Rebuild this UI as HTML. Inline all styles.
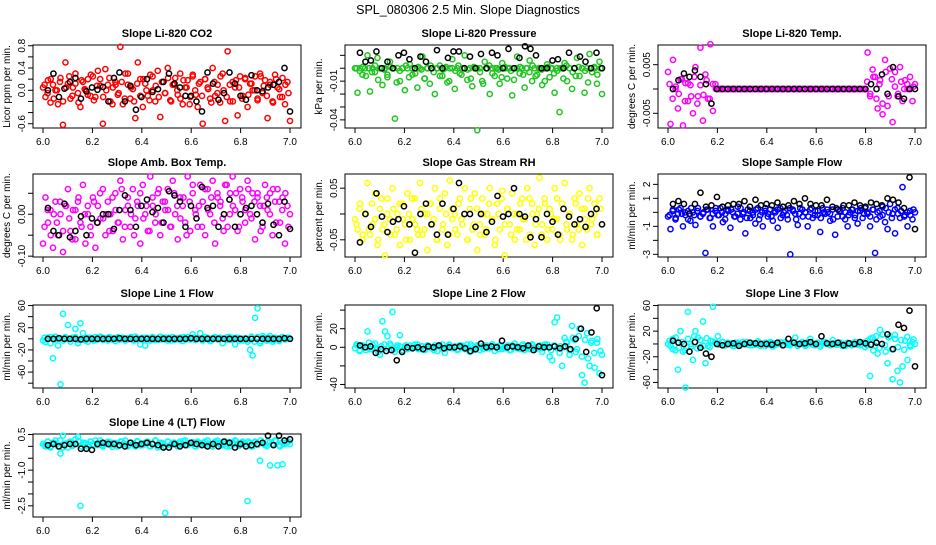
<!DOCTYPE html>
<html><head><meta charset="utf-8"><style>
html,body{margin:0;padding:0;background:#fff;}
svg text{font-family:"Liberation Sans",sans-serif;fill:#000;}
</style></head><body>
<svg id="chart" width="936" height="540" viewBox="0 0 936 540" xmlns="http://www.w3.org/2000/svg">
<rect width="936" height="540" fill="#fff"/>
<text x="468" y="14" text-anchor="middle" font-size="12.5">SPL_080306  2.5 Min. Slope Diagnostics</text>
</svg>
<script>
const xTicks=[6.0,6.2,6.4,6.6,6.8,7.0];
const xTickLabels=["6.0","6.2","6.4","6.6","6.8","7.0"];
const panelTitles=["Slope Li-820 CO2","Slope Li-820 Pressure","Slope Li-820 Temp.","Slope Amb. Box Temp.","Slope Gas Stream RH","Slope Sample Flow","Slope Line 1 Flow","Slope Line 2 Flow","Slope Line 3 Flow","Slope Line 4 (LT) Flow"];
const yTitles=["Licor ppm per min.","kPa per min.","degrees C per min.","degrees C per min.","percent per min.","ml/min per min.","ml/min per min.","ml/min per min.","ml/min per min.","ml/min per min."];

const co2C=[0.05,-0.12,0.18,-0.22,0.1,0.0,-0.25,0.22,-0.62,0.5,0.12,-0.15,0.05,0.3,-0.05,-0.3,0.15,0.0,0.2,-0.1,0.25,-0.12,0.35,0.08,-0.6,0.38,0.1,-0.2,0.05,0.15,-0.08,0.78,-0.25,0.3,0.1,-0.15,0.02,-0.5,0.5,0.2,-0.3,0.12,-0.1,0.28,0.0,-0.2,0.35,-0.48,0.15,-0.05,0.4,-0.18,0.1,0.22,-0.08,0.3,-0.25,0.05,0.18,-0.12,0.25,0.0,-0.3,0.15,-0.6,0.2,0.05,-0.15,0.4,-0.1,0.1,-0.22,0.3,-0.55,0.7,-0.2,0.15,0.05,-0.45,0.25,-0.1,0.2,-0.3,0.12,0.0,0.25,-0.15,0.3,-0.05,0.18,-0.5,0.1,-0.2,0.28,0.05,-0.12,0.22,-0.25,0.15,-0.55];
const co2B=[0.1,-0.05,0.2,-0.15,0.0,0.15,-0.2,0.05,0.25,-0.1,0.12,-0.22,0.18,0.02,-0.08,0.28,-0.18,0.08,0.2,-0.12,0.0,0.22,-0.25,0.1,-0.05,0.15,-0.15,0.3,0.05,-0.2,0.12,-0.1,0.2,0.0,-0.18,0.25,0.08,-0.12,0.15,-0.05,0.22,-0.2,0.1,0.0,-0.15,0.18,0.05,-0.25,0.28,-0.08,0.12,-0.1,0.2,0.02,-0.22,0.15,-0.05,0.25,0.0,-0.12,0.1,-0.2,0.18,0.05,-0.15,0.22,-0.08,0.12,0.0,-0.18,0.25,0.08,-0.1,0.15,-0.22,0.2,0.02,-0.12,0.1,-0.05];
const co2K=[0.0,0.3,-0.12,0.03,0.15,0.22,-0.15,-0.02,0.05,0.01,0.06,-0.2,0.22,0.32,-0.2,0.08,-0.35,-0.12,0.2,-0.03,0.02,0.15,0.3,0.12,0.05,-0.1,-0.1,-0.2,-0.38,0.32,0.12,-0.17,-0.05,0.32,0.12,-0.1,-0.17,0.27,0.0,-0.02,0.05,0.1,0.15,0.4,-0.38];
const presC=[0.0,-0.019,0.0,-0.005,0.0,0.01,-0.018,0.0,-0.003,0.008,0.0,-0.013,0.0,-0.007,0.005,0.0,-0.039,0.0,-0.01,0.0,-0.017,0.0,0.003,-0.005,0.0,-0.015,0.0,0.009,-0.008,0.0,-0.012,0.0,-0.02,0.0,0.002,-0.006,0.0,-0.011,0.0,0.007,-0.016,0.0,-0.004,0.0,0.01,-0.009,0.0,-0.014,0.0,-0.048,0.0,-0.01,0.005,0.0,-0.02,0.0,-0.006,0.0,-0.012,0.004,0.0,-0.008,0.0,-0.021,0.0,0.009,-0.004,0.0,-0.015,0.0,0.006,-0.01,0.0,-0.005,0.0,-0.013,0.0,0.003,-0.007,0.0,-0.019,0.0,-0.034,0.0,0.004,-0.01,0.0,-0.016,0.0,0.008,-0.006,0.0,-0.019,0.0,0.011,-0.003,0.0,-0.012,0.005,-0.02];
const presB=[0,-0.002,0.001,-0.006,0,-0.003,0.002,-0.009,0,-0.001,-0.005,0.001,0,-0.011,-0.002,0,0.002,-0.007,0,-0.004,0.001,-0.001,-0.008,0,0.002,-0.003,0,-0.006,-0.001,0.001,-0.01,0,-0.002,0.002,-0.005,0,-0.001,-0.008,0.001,0,-0.003,-0.012,0,0.002,-0.004,0,-0.001,-0.007,0.001,0,-0.002,-0.009,0,0.001,-0.005,0,-0.003,0.002,-0.006,0,-0.001,-0.01,0.001,0,-0.004,-0.002,0,-0.008,0.002,0,-0.003,-0.006,0.001,0,-0.002,-0.011,0,0.001,-0.005,0];
const presK=[0.012,0.005,0.006,0.013,0.0,0.005,0.0,0.01,0.012,0.007,0.0,0.009,0.005,0.0,0.014,0.0,0.008,0.013,0.013,0.0,0.009,0.0,0.011,0.0,0.012,0.01,0.0,0.015,0.0,0.008,0.017,0.015,0.01,0.0,0.0,0.006,0.007,0.0,0.012,0.0,0.009,0.005,0.0,0.012,0.0];
const tempC=[0.0035,-0.0072,0.006,0.0,-0.004,0.002,-0.0075,0.0012,-0.0025,0.0008,-0.005,0.0045,-0.0015,0.0085,-0.0065,0.003,-0.002,0.0092,-0.0045,0.001,0,0,0,0,0,0,0,0,0,0,0,0,0,0,0,0,0,0,0,0,0,0,0,0,0,0,0,0,0,0,0,0,0,0,0,0,0,0,0,0,0,0,0,0,0,0,0,0,0,0,0,0,0,0,0,0,0,0,0,0,0.0075,-0.0015,0.004,0.0025,-0.004,0.0018,-0.0052,0.006,-0.0035,0.0042,-0.0068,0.0035,-0.0015,0.0045,-0.0025,0.0018,0.0,0.0025,-0.0025,0.001];
const tempB=[0.001,-0.002,0.0005,-0.001,0.002,-0.0025,0.0012,-0.0015,0.0025,-0.003,0.0008,-0.0012,0.0018,-0.002,0.001,0.0,0,0,0,0,0,0,0,0,0,0,0,0,0,0,0,0,0,0,0,0,0,0,0,0,0,0,0,0,0,0,0,0,0,0,0,0,0,0,0,0,0,0,0,0,0,0,0,0,0.0015,-0.001,0.0025,-0.002,0.001,-0.003,0.0035,-0.0015,0.002,0.0005,-0.001,0.0015,0.0,0.001,0.0,0.0005];
const tempK=[0.0,0.0018,0.0032,0.0025,0.0038,0.0025,0.001,-0.003,0.0,0,0,0,0,0,0,0,0,0,0,0,0,0,0,0,0,0,0,0,0,0,0,0,0,0,0,0,0.001,0.0,0.003,-0.001,0.0045,-0.0015,-0.002,0.0,0.0];
const ambC=[-0.07,0.04,-0.02,0.01,-0.08,0.03,-0.05,0.0,-0.09,0.02,0.06,-0.04,0.01,-0.06,0.03,-0.02,0.07,-0.07,0.0,-0.03,0.04,-0.08,0.02,-0.01,0.06,-0.05,0.03,0.0,-0.04,0.05,-0.02,0.08,-0.06,0.01,0.04,-0.03,0.06,-0.01,0.02,-0.07,0.07,0.0,-0.04,0.09,0.02,-0.02,0.05,-0.05,0.03,0.01,0.06,-0.03,0.08,0.0,-0.06,0.04,0.02,-0.02,0.09,-0.04,0.05,0.01,-0.03,0.07,0.03,-0.05,0.06,0.0,0.08,-0.07,0.04,0.02,-0.01,0.07,-0.03,0.05,0.09,0.01,-0.04,0.06,0.03,-0.02,0.08,0.0,0.05,-0.06,0.04,0.02,-0.03,0.07,0.01,0.05,-0.05,0.03,0.06,-0.02,0.04,-0.07,0.02,0.0];
const ambB=[-0.03,0.01,-0.05,0.0,-0.02,0.03,-0.04,0.02,-0.01,-0.06,0.01,0.04,-0.03,0.0,0.02,-0.05,0.03,-0.02,0.05,-0.01,0.0,-0.04,0.04,0.01,-0.02,0.06,-0.03,0.02,0.0,-0.05,0.03,0.05,-0.01,0.02,-0.04,0.04,0.0,0.06,-0.02,0.03,0.01,-0.03,0.05,0.02,-0.01,0.04,-0.05,0.03,0.07,0.0,0.02,-0.03,0.06,0.01,0.04,-0.02,0.05,0.03,-0.04,0.07,0.0,0.02,0.05,-0.03,0.04,0.01,0.06,-0.01,0.03,0.05,-0.04,0.02,0.04,0.0,0.06,-0.02,0.03,0.01,0.05,-0.03];
const ambK=[0.015,-0.04,-0.05,0.025,-0.055,-0.04,-0.005,-0.05,-0.01,-0.02,0.0,0.0,-0.035,0.01,0.045,0.01,-0.03,0.02,0.035,0.005,0.015,-0.02,0.055,0.045,0.03,-0.03,0.02,-0.01,0.065,0.015,0.02,-0.03,0.0,0.035,-0.03,0.0,0.015,0.02,0.0,-0.02,0.025,-0.025,-0.05,0.03,-0.035];
const rhC=[-0.01,-0.03,0.02,-0.05,0.0,0.06,-0.04,-0.02,0.04,-0.06,0.01,-0.03,-0.08,0.03,-0.01,0.05,-0.04,0.0,-0.06,0.02,-0.02,0.04,-0.05,-0.01,0.03,-0.03,0.06,-0.04,0.0,-0.07,0.02,-0.02,0.05,-0.05,0.01,-0.03,0.04,-0.06,0.065,-0.01,0.0,-0.04,0.03,-0.02,0.05,-0.05,0.01,-0.03,0.04,-0.07,-0.02,0.03,-0.04,0.0,0.05,-0.01,-0.06,0.02,-0.03,0.045,-0.08,0.01,-0.02,0.04,-0.05,0.0,-0.03,0.03,-0.01,0.05,-0.04,0.02,-0.06,0.0,0.07,-0.02,0.03,-0.05,0.01,-0.03,0.05,-0.01,-0.04,0.02,0.06,-0.03,0.0,-0.05,0.03,-0.02,0.04,-0.06,0.01,-0.03,0.05,-0.01,0.02,-0.04,0.03,-0.02];
const rhB=[-0.02,0.01,-0.04,0.0,-0.03,0.02,-0.01,-0.05,0.03,-0.02,0.0,-0.04,0.01,-0.03,0.02,-0.01,-0.05,0.0,0.03,-0.02,-0.04,0.01,-0.03,0.0,0.02,-0.01,-0.05,0.03,-0.02,0.0,-0.04,0.01,-0.03,0.02,-0.01,0.0,-0.05,0.03,-0.02,0.01,-0.04,0.0,-0.03,0.02,-0.01,-0.05,0.0,0.03,-0.02,0.01,-0.04,0.0,-0.03,0.02,-0.01,-0.05,0.03,0.0,-0.02,0.01,-0.04,0.02,-0.03,0.0,-0.01,0.03,-0.05,0.01,-0.02,0.0,-0.04,0.02,-0.03,0.01,-0.01,0.03,-0.02,0.0,-0.04,0.01];
const rhK=[-0.055,0.0,-0.025,0.04,-0.005,-0.035,-0.015,-0.01,0.015,-0.02,-0.075,0.0,0.02,-0.02,-0.04,0.02,-0.04,0.01,0.06,0.0,0.0,-0.025,0.0,-0.035,-0.015,0.035,-0.005,0.0,0.05,0.0,-0.005,-0.045,-0.01,-0.045,0.0,-0.015,-0.04,0.01,-0.005,-0.02,-0.01,-0.025,0.0,0.01,-0.02];
const sampleC=[-0.3,-1.2,0.2,-0.5,-0.1,0.3,-1.0,-0.2,0.1,-0.6,0.0,-0.9,0.3,-0.3,-0.1,-2.9,0.2,-0.4,-1.0,0.1,-0.2,0.3,-0.7,-0.1,0.2,-1.1,0.0,-0.3,0.4,-0.5,-0.1,-1.5,0.2,-0.4,0.0,-0.8,0.3,-0.2,-1.0,0.1,-0.3,0.2,-0.6,0.0,-1.1,0.3,-0.2,0.1,-0.5,-3.0,0.2,-0.1,-0.9,0.3,-0.3,0.0,-1.0,0.2,-0.4,0.1,-0.2,-1.4,0.3,-0.1,0.0,-0.6,0.2,-1.6,-0.3,0.1,0.3,-0.5,-1.0,0.0,0.2,-0.2,-0.8,0.1,-0.4,0.3,-0.1,-1.0,0.2,-2.9,0.0,-0.3,0.4,-0.7,-1.2,0.6,-0.1,-1.5,0.3,-0.4,1.8,-0.2,-1.0,0.1,-0.5,0.0];
const sampleB=[-0.2,0.1,-0.4,0.2,-0.1,0.0,-0.5,0.3,-0.2,0.1,-0.3,0.0,0.2,-0.4,-0.1,0.3,-0.2,0.0,-0.5,0.1,0.2,-0.3,-0.1,0.3,0.0,-0.4,0.1,-0.2,0.2,-0.5,0.0,0.3,-0.1,-0.3,0.1,0.2,-0.4,0.0,-0.2,0.3,0.1,-0.5,-0.1,0.2,0.0,-0.3,0.3,-0.2,0.1,-0.4,0.0,0.2,-0.1,-0.5,0.3,0.1,-0.3,0.0,-0.2,0.2,-0.4,0.1,0.3,-0.1,0.0,-0.3,0.2,-0.5,0.1,-0.2,0.3,0.0,-0.4,0.2,-0.1,0.1,-0.3,0.0,-0.2,0.2];
const sampleK=[0.6,0.8,0.6,-0.1,0.6,1.4,0.4,0.5,1.1,0.4,0.5,0.6,0.6,0.8,0.4,0.9,0.5,0.6,0.5,0.7,0.4,0.5,0.8,0.6,1.0,0.6,0.5,0.5,0.9,0.4,0.2,0.5,0.5,0.7,0.5,0.4,0.7,0.6,0.5,1.0,0.9,0.7,0.3,2.5,-1.2];
const line1C=[-3,-6,2,-8,-35,4,-12,-82,45,3,25,-5,2,18,-8,28,10,-3,-5,2,-2,3,-1,4,-2,1,-3,2,0,-4,3,-1,2,-3,1,0,-2,4,-1,-10,2,-12,1,-3,3,-2,0,4,-1,2,-3,1,3,-2,0,2,-4,1,3,-1,8,-2,1,10,-3,0,2,-4,1,3,-1,2,-8,0,3,-2,1,-10,2,0,-3,1,-5,-20,-30,38,55,-8,5,2,-3,1,-5,2,0,-2,3,-1,2,0];
const line1B=[2,-1,3,-2,0,1,-3,2,-1,0,3,-2,1,-1,2,0,-3,1,2,-2,0,3,-1,1,-2,2,0,-1,3,-3,1,0,-2,2,-1,3,0,-2,1,-1,2,-3,0,1,-2,3,-1,0,2,-2,1,-1,3,0,-3,2,-1,1,0,-2,3,-1,2,-3,0,1,-2,4,-5,3,-4,2,-3,5,-2,1,-4,3,-1,2];
const line1K=[0,0,1,0,0,0,-1,0,0,0,0,0,0,1,0,0,0,0,0,0,0,0,0,0,0,0,1,0,0,0,0,0,0,0,0,0,0,0,0,0,0,0,0,1,0];
const line2C=[-1,2,-3,1,0,17,-2,3,-1,-2,-8,28,17,12,4,38,-5,2,13,-5,1,-2,2,-1,0,3,-2,1,-3,2,0,-1,2,-4,1,3,-6,0,2,-1,1,-3,2,0,-2,3,-5,1,0,2,-3,1,2,-1,0,3,-4,1,2,-2,0,1,-3,2,4,-1,0,2,-3,1,-2,3,0,-1,2,-5,1,3,-10,-14,27,32,-6,-20,10,5,-3,23,8,-2,20,-30,-38,15,-20,7,-22,5,-28,-8];
const line2B=[3,-4,2,-3,5,-2,4,-5,1,3,-1,2,-2,0,1,-3,2,-1,0,3,-2,1,-1,2,0,-3,1,2,-2,0,3,-1,1,-2,2,0,-1,3,-3,1,0,-2,2,-1,3,0,-2,1,-1,2,-3,0,1,-2,3,-1,0,2,-2,1,-1,3,0,-3,2,-1,1,0,6,-8,10,-5,12,-10,8,-12,5,-6,9,-4];
const line2K=[2,0,1,-6,-2,-4,-3,-14,-5,0,-1,0,-2,1,0,2,-1,0,0,1,-1,-4,-2,4,0,1,0,7,0,1,0,-1,2,-3,1,0,0,1,-1,1,-2,9,20,-5,16,42,-30];
const line3C=[0,-3,8,-10,-40,20,-12,-68,50,0,-25,20,10,-5,35,-30,-3,5,58,2,12,-1,3,-2,2,0,-3,2,1,-2,3,0,-1,2,-2,1,4,-3,0,2,-1,3,-4,1,0,2,-2,3,-1,0,2,10,-3,1,0,-2,3,8,-1,0,2,-4,1,3,0,-2,6,1,-1,2,0,-3,2,1,-1,3,0,-2,2,-5,5,-50,10,-3,-15,22,15,-2,-30,12,-55,8,-42,-60,-35,5,-25,-2,3,0];
const line3B=[5,-8,10,-6,3,-10,8,-4,12,-7,6,-3,9,-5,4,2,-1,3,-2,0,1,-3,2,-1,0,3,-2,1,-1,2,0,-3,1,2,-2,0,3,-1,1,-2,2,0,-1,3,-3,1,0,-2,2,-1,3,0,-2,1,-1,2,-3,0,1,-2,3,-1,0,2,-2,8,-10,12,-6,15,-12,10,-8,14,-5,6,-9,11,-4,7];
const line3K=[5,2,0,-12,3,-6,-15,-20,0,-2,0,1,-3,0,2,1,0,0,-1,2,-2,8,2,0,1,3,0,12,1,0,2,-2,1,0,3,1,-1,2,0,15,-8,30,25,52,-35];
const line4C=[0.1,0.0,0.2,-0.05,0.15,0.25,0.0,-0.3,0.45,0.1,-0.05,0.2,0.05,0.3,0.4,-2.5,0.15,0.1,0.0,0.2,0.1,0.25,0.05,0.15,0.0,0.1,0.2,0.05,0.15,0.1,0.0,0.2,0.1,0.25,0.05,0.15,0.1,0.0,0.2,0.1,0.05,0.15,0.2,0.0,0.1,0.25,-0.05,0.15,0.1,-2.8,0.2,0.05,0.15,0.1,0.0,0.2,0.1,0.25,0.05,0.15,0.1,0.0,0.2,0.1,0.15,0.05,0.25,0.1,0.0,0.2,0.15,0.1,0.05,0.2,0.1,0.0,0.15,0.25,0.1,0.05,0.2,0.1,-2.3,0.15,0.0,0.2,0.1,-0.6,0.15,0.05,0.2,-0.8,0.1,0.25,-0.8,0.0,-0.75,0.15,0.2,0.1];
const line4B=[0.05,0.2,0.0,0.15,0.1,0.25,-0.05,0.12,0.18,0.02,0.1,0.22,0.0,0.15,0.08,0.2,0.03,0.12,0.25,0.05,0.1,0.18,-0.02,0.14,0.06,0.2,0.1,0.0,0.16,0.08,0.22,0.04,0.12,0.18,0.02,0.1,0.24,0.06,0.14,0.0,0.2,0.08,0.16,0.03,0.12,0.22,0.05,0.1,0.18,0.0,0.14,0.07,0.2,0.1,0.02,0.16,0.24,0.05,0.12,0.0,0.18,0.08,0.22,0.03,0.14,0.1,0.2,0.0,0.16,0.06,0.25,0.1,0.02,0.18,0.08,0.22,0.04,0.15,0.1,0.2];
const line4K=[0.05,0.1,0.0,0.05,0.1,0.1,-0.1,-0.1,-0.15,0.1,0.15,0.1,0.1,0.05,0.0,0.15,0.05,0.1,0.15,0.1,0.05,-0.05,-0.05,0.1,0.0,0.05,0.15,0.1,0.05,0.0,0.1,0.0,0.2,0.15,-0.05,0.1,0.0,0.05,0.1,0.15,0.45,0.05,0.45,0.25,0.3];

const yTicks=[[0.8,0.6,0.4,0.2,0,-0.2,-0.4,-0.6],[0.01,0,-0.01,-0.02,-0.03,-0.04],[0.005,0,-0.005],[0.05,0,-0.05,-0.1],[0.05,0,-0.05],[2,1,0,-1,-2,-3],[60,40,20,0,-20,-40,-60,-80],[40,20,0,-20,-40],[60,40,20,0,-20,-40,-60],[0.5,0,-0.5,-1,-1.5,-2,-2.5]];
const yTickLabels=[{"0.8":"0.8","0.4":"0.4","0":"0.0","-0.6":"-0.6"},{"-0.01":"-0.01","-0.04":"-0.04"},{"0.005":"0.005","-0.005":"-0.005"},{"0":"0.00","-0.1":"-0.10"},{"0.05":"0.05","-0.05":"-0.05"},{"2":"2","1":"1","-1":"-1","-3":"-3"},{"60":"60","20":"20","-20":"-20","-60":"-60"},{"20":"20","0":"0","-40":"-40"},{"60":"60","20":"20","-20":"-20","-60":"-60"},{"0.5":"0.5","-1":"-1.0","-2.5":"-2.5"}];
const colorSeries=[co2C,presC,tempC,ambC,rhC,sampleC,line1C,line2C,line3C,line4C];
const bandSeries=[co2B,presB,tempB,ambB,rhB,sampleB,line1B,line2B,line3B,line4B];
const blackSeries=[co2K,presK,tempK,ambK,rhK,sampleK,line1K,line2K,line3K,line4K];

// layout (not data)
const colors=["#ff0000","#22c422","#ff00ff","#ff00ff","#ffff00","#0000ff","#00ffff","#00ffff","#00ffff","#00ffff"];
const yDomains=[[0.813,-0.677],[0.018,-0.0463],[0.00905,-0.00802],[0.096,-0.102],[0.0775,-0.0833],[2.74,-3.19],[61,-88.7],[45.5,-43.8],[60.8,-68.7],[0.52,-2.97]];
const colLeft=[33,345,658], rowTop=[45,174,305,434], W=268, H=83;
const NS="http://www.w3.org/2000/svg";
const svg=document.getElementById('chart');
function mk(tag,attrs,parent){const e=document.createElementNS(NS,tag);for(const k in attrs)e.setAttribute(k,attrs[k]);(parent||svg).appendChild(e);return e;}

for(let p=0;p<10;p++){
  const L=colLeft[p%3], T=rowTop[Math.floor(p/3)];
  const g=mk('g',{});
  
  
  const xs=v=>L+10+(v-6)*247;
  const [d0,d1]=yDomains[p];
  const ys=v=>T+(d0-v)/(d0-d1)*H;
  const t=mk('text',{x:L+W/2,y:T-8,'text-anchor':'middle','font-size':'11','font-weight':'bold'},g);
  t.textContent=panelTitles[p];
  
  
  const box=mk('rect',{x:L,y:T,width:W,height:H,fill:'none',stroke:'#000','stroke-width':1},g);
  
  
  xTicks.forEach((v,i)=>{
    const x=xs(v);
    mk('line',{x1:x,x2:x,y1:T+H,y2:T+H+5,stroke:'#000'},g);
    const lb=mk('text',{x:x,y:T+H+17,'text-anchor':'middle','font-size':'10'},g);
    lb.textContent=xTickLabels[i];
    
    
  });
  const labs=yTickLabels[p];
  yTicks[p].forEach(v=>{
    const y=ys(v);
    mk('line',{x1:L-5,x2:L,y1:y,y2:y,stroke:'#000'},g);
    const key=String(v);
    if(labs[key]!==undefined){
      const lb=mk('text',{x:0,y:0,'text-anchor':'middle','font-size':'10',transform:`translate(${L-8},${y}) rotate(-90)`},g);
      lb.textContent=labs[key];
      
      
    }
  });
  const yt=mk('text',{x:0,y:0,'text-anchor':'middle','font-size':'10',transform:`translate(${L-23},${T+H/2}) rotate(-90)`},g);
  yt.textContent=yTitles[p];
  
  
  const bb=bandSeries[p], nb=bb.length;
  bb.forEach((v,i)=>{
    const c=mk('circle',{cx:xs(6+(i+0.5)/nb),cy:ys(v),r:2.6,fill:'none',stroke:colors[p],'stroke-width':1.5},g);
    
    
  });
  const cs=colorSeries[p], n=cs.length;
  cs.forEach((v,i)=>{
    const c=mk('circle',{cx:xs(6+i/(n-1)),cy:ys(v),r:2.6,fill:'none',stroke:colors[p],'stroke-width':1.5},g);
    
    
  });
  const bs=blackSeries[p], m=bs.length;
  bs.forEach((v,i)=>{
    const c=mk('circle',{cx:xs(6.02+0.98*i/(m-1)),cy:ys(v),r:2.6,fill:'none',stroke:'#000','stroke-width':1.5},g);
    
    
  });
}
</script>
</body></html>
